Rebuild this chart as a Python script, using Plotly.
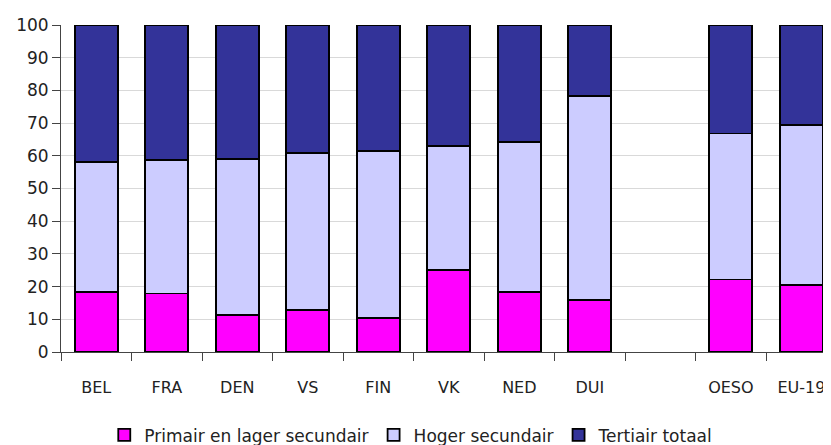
import plotly.graph_objects as go

categories = ["BEL", "FRA", "DEN", "VS", "FIN", "VK", "NED", "DUI", " ", "OESO", "EU-19"]
primair = [18.4, 17.9, 11.4, 12.9, 10.3, 25.0, 18.4, 15.8, None, 22.2, 20.6]
hoger_top = [58.0, 58.6, 59.1, 60.9, 61.4, 63.0, 64.1, 78.3, None, 66.8, 69.5]
hoger = [None if (t is None or p is None) else round(t - p, 1) for t, p in zip(hoger_top, primair)]
tertiair = [None if t is None else round(100 - t, 1) for t in hoger_top]
y_ticks = list(range(0, 101, 10))

series = [
    ("Primair en lager secundair", primair, "#FF00FF"),
    ("Hoger secundair", hoger, "#CCCCFF"),
    ("Tertiair totaal", tertiair, "#333399"),
]

FONT = "DejaVu Sans"
fig = go.Figure()
for name, vals, col in series:
    fig.add_trace(go.Bar(
        x=categories, y=vals, name=name,
        marker=dict(color=col, line=dict(color="#000000", width=1.8)),
    ))

fig.update_layout(
    barmode="stack",
    bargap=0.39,
    width=823, height=437,
    margin=dict(l=53, r=0, t=17, b=93, autoexpand=False),
    plot_bgcolor="white", paper_bgcolor="white",
    font=dict(family=FONT, size=16, color="#222222"),
    showlegend=True,
    legend=dict(
        orientation="h", xref="container", yref="paper",
        x=0.49, xanchor="center", y=-0.255, yanchor="middle",
        font=dict(size=17, family=FONT), traceorder="normal",
        itemwidth=30,
    ),
    xaxis=dict(
        type="category", categoryorder="array", categoryarray=categories,
        range=[-0.5, 10.42],
        tickson="boundaries", ticks="outside", ticklen=8, tickcolor="#444444",
        showline=True, linecolor="#444444", linewidth=1,
        showgrid=False,
        ticklabelstandoff=21,
        tickfont=dict(size=16, family=FONT),
    ),
    yaxis=dict(
        range=[0, 100], tickvals=y_ticks, ticks="outside", ticklen=8,
        tickcolor="#444444", showline=True, linecolor="#444444", linewidth=1,
        showgrid=True, gridcolor="#d9d9d9", gridwidth=1,
        zeroline=False,
        tickfont=dict(size=17, family=FONT),
    ),
)

fig.write_html("out.html")
